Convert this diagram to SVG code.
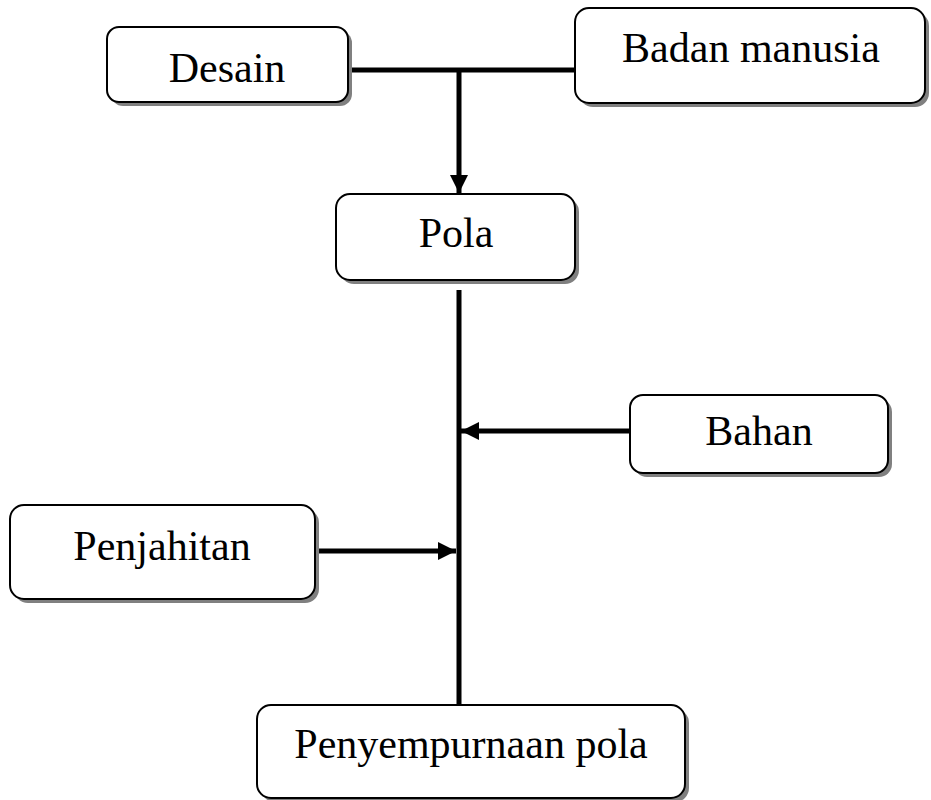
<svg xmlns="http://www.w3.org/2000/svg" width="931" height="800" viewBox="0 0 931 800">
<style>
.box{fill:#fff;stroke:#000;stroke-width:2}
.sh{fill:#808080}
.lbl{font-family:"Liberation Serif","Times New Roman",serif;font-size:42px;fill:#000;text-anchor:middle}
.ln{stroke:#000;stroke-width:5;fill:none}
</style>
<defs>
<marker id="ah" markerUnits="userSpaceOnUse" markerWidth="19" markerHeight="18" refX="18" refY="9" orient="auto">
<path d="M0,0 L18,9 L0,18 Z" fill="#000"/>
</marker>
</defs>
<rect width="931" height="800" fill="#fff"/>
<g id="connectors">
<path class="ln" d="M348,70 H575"/>
<path class="ln" d="M459,70 V193" marker-end="url(#ah)"/>
<path class="ln" d="M459,290 V706"/>
<path class="ln" d="M630,431 H461" marker-end="url(#ah)"/>
<path class="ln" d="M317,551 H456" marker-end="url(#ah)"/>
</g>
<g id="desain">
<rect class="sh" x="111" y="31" width="241" height="75" rx="12"/>
<rect class="box" x="107" y="27" width="241" height="75" rx="12"/>
<text class="lbl" x="227" y="82">Desain</text>
</g>
<g id="badan-manusia">
<rect class="sh" x="579" y="12" width="350" height="95" rx="14"/>
<rect class="box" x="575" y="8" width="350" height="95" rx="14"/>
<text class="lbl" x="751" y="62">Badan manusia</text>
</g>
<g id="pola">
<rect class="sh" x="340" y="198" width="239" height="86" rx="14"/>
<rect class="box" x="336" y="194" width="239" height="86" rx="14"/>
<text class="lbl" x="456" y="247">Pola</text>
</g>
<g id="bahan">
<rect class="sh" x="634" y="399" width="258" height="78" rx="13"/>
<rect class="box" x="630" y="395" width="258" height="78" rx="13"/>
<text class="lbl" x="759" y="445">Bahan</text>
</g>
<g id="penjahitan">
<rect class="sh" x="14" y="509" width="305" height="94" rx="14"/>
<rect class="box" x="10" y="505" width="305" height="94" rx="14"/>
<text class="lbl" x="162" y="560">Penjahitan</text>
</g>
<g id="penyempurnaan-pola">
<rect class="sh" x="261" y="709" width="428" height="93" rx="14"/>
<rect class="box" x="257" y="705" width="428" height="93" rx="14"/>
<text class="lbl" x="471" y="758">Penyempurnaan pola</text>
</g>
</svg>
